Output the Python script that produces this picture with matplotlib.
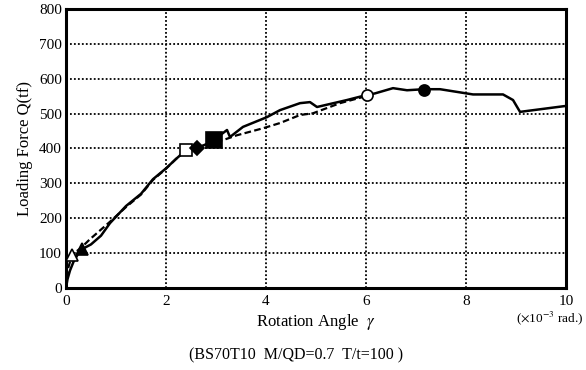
import numpy as np
import matplotlib
matplotlib.use('Agg')
import matplotlib.pyplot as plt

# rotation angle (x10^-3 rad) and loading force (tf)
solid_x = [0.0, 0.03, 0.08, 0.15, 0.25, 0.33, 0.5, 0.7, 0.88, 1.2, 1.5, 1.74, 2.0, 2.2, 2.4,
           2.62, 2.96, 3.1, 3.22, 3.28, 3.54, 4.02, 4.28, 4.68, 4.88, 5.02, 5.62, 5.92, 6.02,
           6.18, 6.54, 6.82, 7.16, 7.48, 8.14, 8.74, 8.94, 9.08, 9.94, 10.0]
solid_q = [0, 25, 50, 75, 100, 112, 125, 150, 186, 235, 270, 312, 343, 370, 395,
           401, 422, 440, 453, 433, 462, 490, 510, 530, 533, 519, 539, 550, 553,
           558, 573, 567, 570, 570, 555, 555, 539, 505, 521, 522]
dash_x = [0.0, 0.05, 0.12, 0.3, 0.48, 0.88, 1.2, 1.5, 1.74, 2.0, 2.2, 2.4, 2.62, 2.96,
          3.14, 3.42, 3.94, 4.28, 4.68, 4.94, 5.48, 5.92, 6.02]
dash_q = [0, 60, 95, 115, 140, 190, 232, 268, 310, 342, 370, 395, 401, 420,
          424, 438, 458, 473, 496, 501, 530, 547, 553]

# event markers
mark_x = [0.12, 0.33, 2.4, 2.62, 2.96, 6.02, 7.16]
mark_q = [95, 112, 395, 401, 424, 553, 567]
mark_style = ['^', '^', 's', 'D', 's', 'o', 'o']
mark_fill = [False, True, False, True, True, False, True]
mark_size = [8, 8, 8, 7, 11, 8, 8]

plt.rcParams['font.family'] = ['Liberation Serif', 'DejaVu Serif']
plt.rcParams['mathtext.fontset'] = 'stix'

fig = plt.figure(figsize=(5.86, 3.70), dpi=100)
ax = fig.add_axes([0.1126, 0.2216, 0.8533, 0.7541])

ax.plot(dash_x, dash_q, color='black', lw=1.6, ls=(0, (3, 1.5)))
ax.plot(solid_x, solid_q, color='black', lw=1.8)
for x, q, m, f, s in zip(mark_x, mark_q, mark_style, mark_fill, mark_size):
    ax.plot(x, q, marker=m, ms=s, mec='black', mew=1.2,
            mfc='black' if f else 'white', ls='none', zorder=5)

ax.set_xlim(0, 10)
ax.set_ylim(0, 800)
ax.set_xticks([0, 2, 4, 6, 8, 10])
ax.set_yticks(range(0, 801, 100))
ax.grid(True, color='black', ls=(0, (1, 1.2)), lw=1.3)
ax.tick_params(length=0, labelsize=11)
ax.tick_params(axis='x', pad=5)
ax.tick_params(axis='y', pad=3)
for sp in ax.spines.values():
    sp.set_linewidth(2.2)

ax.set_xlabel(r'Rotation Angle  $\gamma$', fontsize=12, labelpad=3)
ax.set_ylabel('Loading Force Q(tf)', fontsize=12, labelpad=4)
fig.text(0.995, 0.14, r'($\times$10$^{-3}$ rad.)', fontsize=9.5, ha='right', va='center')
fig.text(0.505, 0.03, '(BS70T10  M/QD=0.7  T/t=100 )', fontsize=11.5, ha='center')

fig.savefig('out.png', dpi=100)
